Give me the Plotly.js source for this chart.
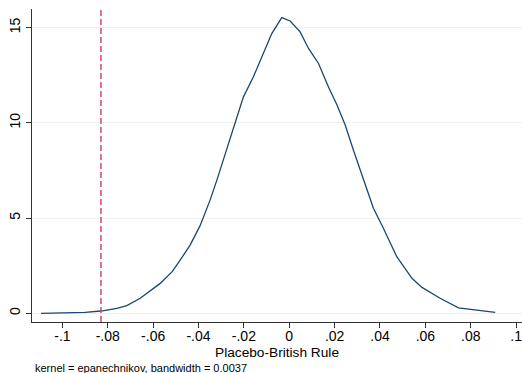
<!DOCTYPE html>
<html>
<head>
<meta charset="utf-8">
<script src="https://cdn.plot.ly/plotly-3.0.1.min.js"></script>
<style>html,body{margin:0;padding:0;background:#fff;}#chart{width:522px;height:373px;}</style>
</head>
<body>
<div id="chart"></div>
<script>
// Kernel density estimate of Placebo-British Rule
const densityX = [-0.1094,-0.100,-0.090,-0.0829,-0.076,-0.0716,-0.0657,-0.0569,-0.0515,-0.0481,-0.0437,-0.0393,-0.0349,-0.0319,-0.0275,-0.0239,-0.0202,-0.0158,-0.0114,-0.0077,-0.0033,0.0004,0.0048,0.0085,0.0129,0.0173,0.0210,0.0247,0.0283,0.0327,0.0371,0.0415,0.0459,0.0474,0.0541,0.0585,0.0665,0.0746,0.0827,0.0908];
const densityY = [0.0,0.01,0.05,0.12,0.26,0.40,0.79,1.57,2.2,2.79,3.58,4.60,5.94,6.99,8.6,10.0,11.36,12.41,13.63,14.68,15.52,15.34,14.77,13.90,13.11,11.88,10.95,9.87,8.56,6.99,5.51,4.46,3.41,2.97,1.84,1.36,0.79,0.29,0.17,0.05];
const refLineX = -0.083;
const xTickVals = [-0.1,-0.08,-0.06,-0.04,-0.02,0,0.02,0.04,0.06,0.08,0.1];
const xTickText = ["-.1","-.08","-.06","-.04","-.02","0",".02",".04",".06",".08",".1"];
const yTickVals = [0,5,10,15];
const yTickText = ["0","5","10","15"];
const xTitle = "Placebo-British Rule";
const noteText = "kernel = epanechnikov, bandwidth = 0.0037";

const traces = [{
  x: densityX, y: densityY, type: 'scatter', mode: 'lines',
  line: {color: '#1a476f', width: 1.3}, hoverinfo: 'skip'
}];

const layout = {
  width: 522, height: 373,
  margin: {l: 32, r: 0, t: 9, b: 51},
  paper_bgcolor: '#fff', plot_bgcolor: '#fff',
  showlegend: false,
  font: {family: 'Liberation Sans, Arial, sans-serif', size: 14, color: '#000'},
  xaxis: {
    range: [-0.1134, 0.1026], tickvals: xTickVals, ticktext: xTickText,
    showgrid: false, zeroline: false, showline: true, linecolor: '#333', linewidth: 1,
    ticks: 'outside', ticklen: 5, tickcolor: '#333', tickfont: {size: 14},
    ticklabeloverflow: 'allow', ticklabelstandoff: -4, automargin: false
  },
  yaxis: {
    range: [-0.456, 15.97], tickvals: yTickVals, ticktext: yTickText, tickangle: -90,
    showgrid: true, gridcolor: '#eaf2f3', gridwidth: 1,
    zeroline: false, showline: true, linecolor: '#333', linewidth: 1,
    ticks: 'outside', ticklen: 5, tickcolor: '#333', tickfont: {size: 14},
    automargin: false
  },
  shapes: [{
    type: 'line', xref: 'x', yref: 'paper', x0: refLineX, x1: refLineX, y0: 0, y1: 1,
    line: {color: '#d04a6e', width: 1.5, dash: '6px,3px'}
  }],
  annotations: [{
    text: xTitle, xref: 'paper', yref: 'paper', x: 0.5, y: 0, xanchor: 'center', yanchor: 'middle',
    yshift: -30, showarrow: false, font: {size: 13.7, color: '#000'}
  }, {
    text: noteText, xref: 'paper', yref: 'paper', x: 0, y: 0, xanchor: 'left', yanchor: 'middle',
    xshift: 1, yshift: -46, showarrow: false, font: {size: 11, color: '#000'}
  }]
};
Plotly.newPlot('chart', traces, layout, {staticPlot: true, displayModeBar: false});
</script>
</body>
</html>
